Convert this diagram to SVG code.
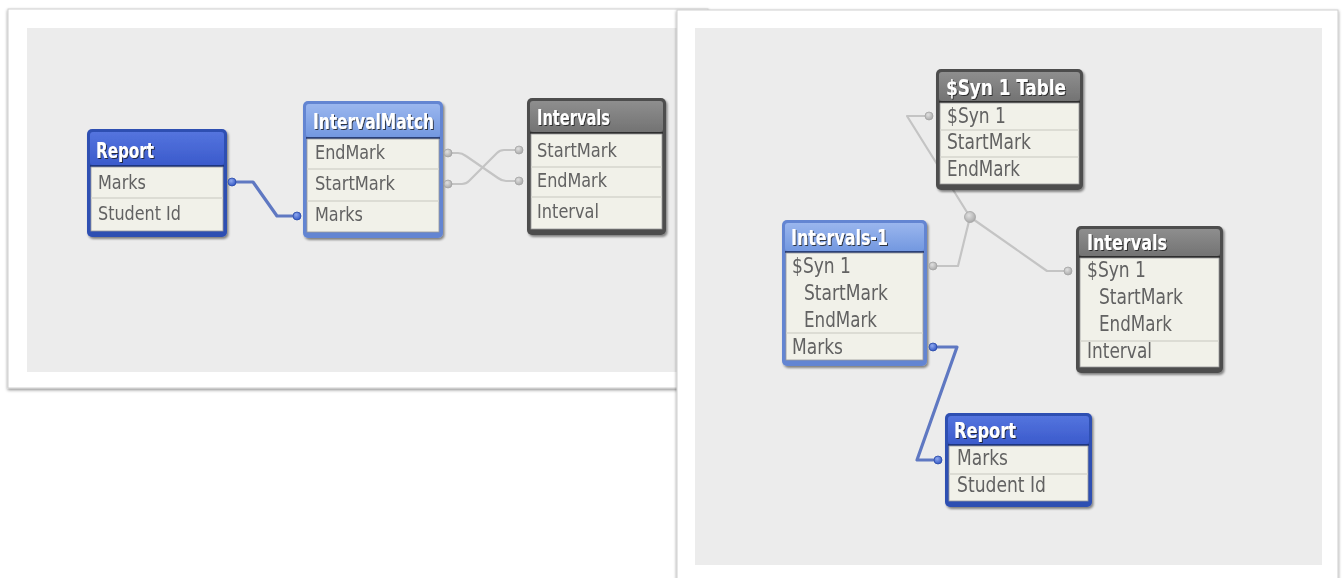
<svg xmlns="http://www.w3.org/2000/svg" width="1342" height="578" viewBox="0 0 1342 578">
<defs>
<filter id="pshadow" x="-5%" y="-5%" width="110%" height="110%"><feDropShadow dx="0" dy="1.5" stdDeviation="1.5" flood-color="#000" flood-opacity="0.45"/></filter>
<filter id="nshadow" x="-10%" y="-10%" width="120%" height="120%"><feDropShadow dx="1.5" dy="2" stdDeviation="1.2" flood-color="#000" flood-opacity="0.45"/></filter>
<filter id="tshadow" x="-10%" y="-30%" width="120%" height="160%"><feDropShadow dx="1" dy="1" stdDeviation="0.4" flood-color="#1a1a1a" flood-opacity="0.8"/></filter>
<linearGradient id="gBlue" x1="0" y1="0" x2="0" y2="1"><stop offset="0" stop-color="#5474de"/><stop offset="1" stop-color="#3b5bcc"/></linearGradient>
<linearGradient id="gLight" x1="0" y1="0" x2="0" y2="1"><stop offset="0" stop-color="#9ab6ee"/><stop offset="1" stop-color="#7398e0"/></linearGradient>
<linearGradient id="gGray" x1="0" y1="0" x2="0" y2="1"><stop offset="0" stop-color="#8e8e8e"/><stop offset="1" stop-color="#737373"/></linearGradient>
<radialGradient id="dotGray" cx="0.4" cy="0.35" r="0.7"><stop offset="0" stop-color="#e0e0e0"/><stop offset="1" stop-color="#a6a6a6"/></radialGradient>
<radialGradient id="dotBlue" cx="0.4" cy="0.35" r="0.7"><stop offset="0" stop-color="#8fa8ee"/><stop offset="1" stop-color="#2d52c2"/></radialGradient>
</defs>
<style>
.panel{fill:#ffffff;stroke:#cfcfcf;stroke-width:1}
.canvas{fill:#ececec}
.fBlue{fill:#2f4fb2}
.fLight{fill:#6485d2}
.fGray{fill:#4e4e4e}
.hBlue{fill:url(#gBlue)}
.hLight{fill:url(#gLight)}
.hGray{fill:url(#gGray)}
.body{fill:#f1f1e9;stroke:#9a9a9a;stroke-width:0.8}
.div{stroke:#d4d4cc;stroke-width:1.5}
.hlB{stroke:#1f3580;stroke-width:2}
.hlL{stroke:#2a3f78;stroke-width:2}
.hlG{stroke:#2f2f2f;stroke-width:2}
.ht{font-family:"Liberation Sans Narrow","DejaVu Sans Condensed","DejaVu Sans",sans-serif;font-weight:bold;fill:#ffffff}
.ft{font-family:"DejaVu Sans Condensed","DejaVu Sans",sans-serif;font-stretch:condensed;fill:#626262}
.l{font-size:20px}
.r{font-size:21px}
.cg{fill:none;stroke:#c4c4c4;stroke-width:2.2;stroke-linejoin:round}
.cb{fill:none;stroke:#5f78c2;stroke-width:3.2;stroke-linejoin:round}
.dg{fill:url(#dotGray);stroke:#a4a4a4;stroke-width:0.8}
.db{fill:url(#dotBlue);stroke:#2a4aa8;stroke-width:0.8}
</style>

<!-- panels -->
<g id="panel-left">
<rect class="panel" x="8" y="9" width="700" height="379" filter="url(#pshadow)"/>
<rect class="canvas" x="27" y="28" width="660" height="344"/>
</g>
<g id="panel-right">
<rect class="panel" x="677" y="10" width="661" height="590" filter="url(#pshadow)"/>
<rect class="canvas" x="695" y="28" width="627" height="537"/>
</g>

<!-- connectors -->
<g id="connectors">
<polyline class="cb" points="232,182 253,182 277,216 297,216"/>
<path class="cg" d="M448,153 L458,153 Q462,153 466,156 L498,178 Q502,181 506,181 L519,181"/>
<path class="cg" d="M448,184 L462,184 Q466,184 469,181 L497,153 Q500,150 504,150 L519,150"/>
<polyline class="cg" points="929,116 907,116 970,217"/>
<polyline class="cg" points="970,217 958,266 933,266"/>
<polyline class="cg" points="970,217 1047,271 1068,271"/>
<polyline class="cb" points="933,347 957,347 917,460 938,460"/>
</g>

<!-- left: Report -->
<g id="report-left" filter="url(#nshadow)">
<rect class="fBlue" x="87" y="129" width="140" height="108" rx="5"/>
<rect class="hBlue" x="90" y="132" width="134" height="33" rx="3"/>
<line class="hlB" x1="90" y1="166" x2="224" y2="166"/>
<rect class="body" x="91" y="167" width="132" height="64"/>
<line class="div" x1="91" y1="198" x2="223" y2="198"/>
<text class="ht" x="96" y="158" font-size="22" textLength="58" lengthAdjust="spacingAndGlyphs" filter="url(#tshadow)">Report</text>
<text class="ft l" x="98" y="189" textLength="48" lengthAdjust="spacingAndGlyphs">Marks</text>
<text class="ft l" x="98" y="220" textLength="83" lengthAdjust="spacingAndGlyphs">Student Id</text>
</g>

<!-- left: IntervalMatch -->
<g id="intervalmatch" filter="url(#nshadow)">
<rect class="fLight" x="303" y="101" width="140" height="137" rx="5"/>
<rect class="hLight" x="306" y="104" width="134" height="33" rx="3"/>
<line class="hlL" x1="306" y1="138" x2="440" y2="138"/>
<rect class="body" x="307" y="139" width="132" height="93"/>
<line class="div" x1="307" y1="169" x2="439" y2="169"/>
<line class="div" x1="307" y1="201" x2="439" y2="201"/>
<text class="ht" x="313" y="129" font-size="22" textLength="121" lengthAdjust="spacingAndGlyphs" filter="url(#tshadow)">IntervalMatch</text>
<text class="ft l" x="315" y="159" textLength="70" lengthAdjust="spacingAndGlyphs">EndMark</text>
<text class="ft l" x="315" y="190" textLength="80" lengthAdjust="spacingAndGlyphs">StartMark</text>
<text class="ft l" x="315" y="221" textLength="48" lengthAdjust="spacingAndGlyphs">Marks</text>
</g>

<!-- left: Intervals -->
<g id="intervals-left" filter="url(#nshadow)">
<rect class="fGray" x="527" y="98" width="139" height="137" rx="5"/>
<rect class="hGray" x="530" y="101" width="133" height="31" rx="3"/>
<line class="hlG" x1="530" y1="133" x2="663" y2="133"/>
<rect class="body" x="531" y="134" width="131" height="95"/>
<line class="div" x1="531" y1="167" x2="662" y2="167"/>
<line class="div" x1="531" y1="197" x2="662" y2="197"/>
<text class="ht" x="537" y="125" font-size="22" textLength="73" lengthAdjust="spacingAndGlyphs" filter="url(#tshadow)">Intervals</text>
<text class="ft l" x="537" y="157" textLength="80" lengthAdjust="spacingAndGlyphs">StartMark</text>
<text class="ft l" x="537" y="187" textLength="70" lengthAdjust="spacingAndGlyphs">EndMark</text>
<text class="ft l" x="537" y="218" textLength="62" lengthAdjust="spacingAndGlyphs">Interval</text>
</g>

<!-- right: $Syn 1 Table -->
<g id="syn1table" filter="url(#nshadow)">
<rect class="fGray" x="936" y="69" width="147" height="121" rx="5"/>
<rect class="hGray" x="939" y="72" width="141" height="29" rx="3"/>
<line class="hlG" x1="939" y1="102" x2="1080" y2="102"/>
<rect class="body" x="940" y="103" width="139" height="81"/>
<line class="div" x1="940" y1="130" x2="1079" y2="130"/>
<line class="div" x1="940" y1="157" x2="1079" y2="157"/>
<text class="ht" x="946" y="95" font-size="21" textLength="120" lengthAdjust="spacingAndGlyphs" filter="url(#tshadow)">$Syn 1 Table</text>
<text class="ft r" x="947" y="123" textLength="59" lengthAdjust="spacingAndGlyphs">$Syn 1</text>
<text class="ft r" x="947" y="149" textLength="84" lengthAdjust="spacingAndGlyphs">StartMark</text>
<text class="ft r" x="947" y="176" textLength="73" lengthAdjust="spacingAndGlyphs">EndMark</text>
</g>

<!-- right: Intervals-1 -->
<g id="intervals-1" filter="url(#nshadow)">
<rect class="fLight" x="782" y="220" width="145" height="146" rx="5"/>
<rect class="hLight" x="785" y="223" width="139" height="28" rx="3"/>
<line class="hlL" x1="785" y1="252" x2="924" y2="252"/>
<rect class="body" x="786" y="253" width="137" height="107"/>
<line class="div" x1="786" y1="333" x2="923" y2="333"/>
<text class="ht" x="791" y="245" font-size="21" textLength="97" lengthAdjust="spacingAndGlyphs" filter="url(#tshadow)">Intervals-1</text>
<text class="ft r" x="792" y="273" textLength="59" lengthAdjust="spacingAndGlyphs">$Syn 1</text>
<text class="ft r" x="804" y="300" textLength="84" lengthAdjust="spacingAndGlyphs">StartMark</text>
<text class="ft r" x="804" y="327" textLength="73" lengthAdjust="spacingAndGlyphs">EndMark</text>
<text class="ft r" x="792" y="354" textLength="51" lengthAdjust="spacingAndGlyphs">Marks</text>
</g>

<!-- right: Intervals -->
<g id="intervals-right" filter="url(#nshadow)">
<rect class="fGray" x="1076" y="226" width="147" height="147" rx="5"/>
<rect class="hGray" x="1079" y="229" width="141" height="27" rx="3"/>
<line class="hlG" x1="1079" y1="257" x2="1220" y2="257"/>
<rect class="body" x="1080" y="258" width="139" height="109"/>
<line class="div" x1="1080" y1="341" x2="1219" y2="341"/>
<text class="ht" x="1087" y="250" font-size="21" textLength="80" lengthAdjust="spacingAndGlyphs" filter="url(#tshadow)">Intervals</text>
<text class="ft r" x="1087" y="277" textLength="59" lengthAdjust="spacingAndGlyphs">$Syn 1</text>
<text class="ft r" x="1099" y="304" textLength="84" lengthAdjust="spacingAndGlyphs">StartMark</text>
<text class="ft r" x="1099" y="331" textLength="73" lengthAdjust="spacingAndGlyphs">EndMark</text>
<text class="ft r" x="1087" y="358" textLength="65" lengthAdjust="spacingAndGlyphs">Interval</text>
</g>

<!-- right: Report -->
<g id="report-right" filter="url(#nshadow)">
<rect class="fBlue" x="945" y="413" width="147" height="94" rx="5"/>
<rect class="hBlue" x="948" y="416" width="141" height="28" rx="3"/>
<line class="hlB" x1="948" y1="445" x2="1089" y2="445"/>
<rect class="body" x="949" y="446" width="139" height="55"/>
<line class="div" x1="949" y1="474" x2="1088" y2="474"/>
<text class="ht" x="954" y="438" font-size="21" textLength="62" lengthAdjust="spacingAndGlyphs" filter="url(#tshadow)">Report</text>
<text class="ft r" x="957" y="465" textLength="51" lengthAdjust="spacingAndGlyphs">Marks</text>
<text class="ft r" x="957" y="492" textLength="89" lengthAdjust="spacingAndGlyphs">Student Id</text>
</g>

<!-- connector endpoints -->
<g id="connector-dots">
<circle class="db" cx="232" cy="182" r="4"/>
<circle class="db" cx="297" cy="216" r="4"/>
<circle class="dg" cx="448" cy="153" r="4"/>
<circle class="dg" cx="448" cy="184" r="4"/>
<circle class="dg" cx="519" cy="150" r="4"/>
<circle class="dg" cx="519" cy="181" r="4"/>
<circle class="dg" cx="929" cy="116" r="4"/>
<circle class="dg" cx="970" cy="217" r="5.5"/>
<circle class="dg" cx="933" cy="266" r="4"/>
<circle class="dg" cx="1068" cy="271" r="4"/>
<circle class="db" cx="933" cy="347" r="4"/>
<circle class="db" cx="938" cy="460" r="4"/>
</g>
</svg>
